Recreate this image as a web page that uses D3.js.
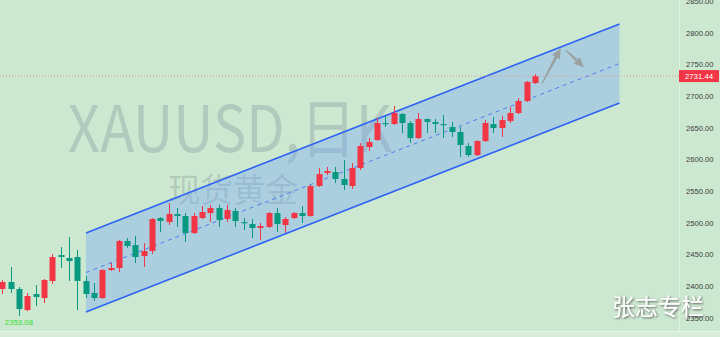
<!DOCTYPE html>
<html><head><meta charset="utf-8">
<script src="https://cdn.jsdelivr.net/npm/d3@7"></script>
<style>html,body{margin:0;padding:0;background:#cde8d0;overflow:hidden}</style>
</head><body><svg id="c" width="720" height="337"></svg>
<script>
const categories = ["07-23","07-24","07-25","07-26","07-29","07-30","07-31","08-01","08-02",
"08-05","08-06","08-07","08-08","08-09","08-12","08-13","08-14","08-15","08-16",
"08-19","08-20","08-21","08-22","08-23","08-26","08-27","08-28","08-29","08-30",
"09-02","09-03","09-04","09-05","09-06","09-09","09-10","09-11","09-12","09-13",
"09-16","09-17","09-18","09-19","09-20","09-23","09-24","09-25","09-26","09-27","09-30",
"10-01","10-02","10-03","10-04","10-07","10-08","10-09","10-10","10-11",
"10-14","10-15","10-16","10-17","10-18","10-21"];
const open = [2395.6,2406.6,2395.6,2362.4,2387.7,2381.4,2408.2,2449.2,2444.5,2446.0,2408.2,2389.3,2381.4,2425.5,2428.7,2471.3,2465.0,2447.6,2455.5,2507.5,2501.2,2513.9,2510.7,2483.9,2507.5,2515.4,2523.3,2506.0,2518.6,2501.2,2498.1,2491.8,2493.4,2515.4,2496.5,2507.5,2515.4,2510.7,2558.0,2578.5,2580.1,2569.1,2558.0,2586.4,2619.5,2630.6,2657.4,2655.8,2671.6,2657.4,2633.7,2663.7,2659.0,2655.8,2651.1,2643.2,2621.1,2606.9,2629.0,2655.8,2649.5,2660.5,2673.2,2692.1,2720.5];
const high = [2409.8,2430.3,2398.7,2389.3,2401.9,2411.3,2450.8,2461.8,2477.6,2457.1,2416.1,2405.0,2427.0,2436.6,2472.9,2476.0,2479.2,2468.1,2507.5,2509.1,2531.2,2523.3,2515.4,2515.4,2526.5,2528.1,2528.1,2528.1,2523.3,2507.5,2506.0,2499.7,2517.0,2523.3,2509.1,2517.0,2526.5,2559.6,2586.4,2588.0,2588.0,2599.0,2594.3,2625.8,2633.7,2665.3,2668.4,2684.2,2673.2,2660.5,2673.2,2664.5,2663.7,2670.0,2659.0,2651.1,2625.8,2630.0,2662.1,2666.9,2668.4,2682.6,2696.8,2723.6,2734.7];
const low = [2387.7,2389.3,2353.08,2360.5,2368.7,2373.5,2403.5,2428.7,2408.2,2362.4,2381.4,2376.6,2379.8,2424.0,2422.4,2460.2,2436.6,2430.3,2450.8,2485.5,2496.5,2493.4,2469.7,2482.3,2506.0,2501.2,2493.4,2501.2,2493.4,2488.6,2476.0,2472.8,2491.8,2485.5,2483.9,2506.0,2499.7,2509.5,2556.4,2575.4,2562.8,2551.7,2553.3,2583.3,2613.2,2629.0,2651.1,2654.2,2641.6,2625.8,2632.2,2641.6,2641.6,2633.7,2635.3,2603.8,2603.8,2605.3,2627.4,2641.6,2635.3,2657.4,2671.5,2690.5,2719.0];
const close = [2406.6,2395.6,2364.0,2384.5,2382.9,2409.8,2446.0,2446.0,2439.7,2408.2,2387.7,2381.4,2425.5,2428.7,2471.3,2463.4,2446.0,2455.5,2506.0,2502.8,2513.9,2510.7,2483.9,2510.7,2517.0,2523.3,2504.4,2520.2,2502.8,2499.7,2491.8,2494.9,2515.4,2498.1,2506.0,2515.4,2510.7,2558.0,2576.9,2581.7,2569.1,2559.6,2586.4,2621.1,2627.4,2657.4,2655.8,2673.2,2657.4,2633.7,2663.7,2659.0,2655.8,2654.2,2643.2,2622.7,2606.9,2629.0,2657.4,2649.5,2662.1,2673.2,2692.1,2722.1,2731.44];
const yTicks = [2350,2400,2450,2500,2550,2600,2650,2700,2750,2800,2850];
// channel (index positions, prices)
const channelX = [10.05, 74.15];
const channelUpper = [2483.9, 2813.5];
const channelLower = [2359.3, 2688.9];
const channelMid = [2421.6, 2751.2];
// forecast arrows: [tailIndex, tailPrice, tipIndex, tipPrice]
const arrows = [[64.81, 2718.9, 67.09, 2775.2],[67.68, 2772.5, 69.89, 2745.3]];
const lastPrice = 2731.44;
const lowLabel = "2353.08", lowIndex = 2;
const watermark1 = "XAUUSD,日K", watermark2 = "现货黄金", signature = "张志专栏";

const svg = d3.select("#c");
const plotRight = 679;
const x = d3.scaleLinear().domain([0, 64]).range([2.3, 535]);
const y = d3.scaleLinear().domain([2350, 2850]).range([317.9, 0.9]);

const defs = svg.append("defs");
defs.append("clipPath").attr("id","plot").append("rect").attr("x",0).attr("y",0).attr("width",plotRight).attr("height",331);
const f = defs.append("filter").attr("id","sh").attr("x","-20%").attr("y","-40%").attr("width","140%").attr("height","180%");
f.append("feDropShadow").attr("dx",1).attr("dy",1).attr("stdDeviation",0.9).attr("flood-color","#444").attr("flood-opacity",0.85);

svg.append("rect").attr("width",720).attr("height",337).attr("fill","#cde8d0");

const g = svg.append("g").attr("clip-path","url(#plot)");

// watermark
g.append("text").attr("x",68).attr("y",152).attr("textLength",324).attr("lengthAdjust","spacingAndGlyphs")
  .attr("font-family","'Noto Sans CJK SC','Noto Sans',sans-serif").attr("font-size",64)
  .attr("fill","rgba(100,110,130,0.25)").text(watermark1);
g.append("text").attr("x",168).attr("y",202).attr("textLength",130).attr("lengthAdjust","spacingAndGlyphs")
  .attr("font-family","'Noto Sans CJK SC',sans-serif").attr("font-size",33)
  .attr("fill","rgba(100,110,130,0.25)").text(watermark2);

// channel fill
const poly = [[channelX[0],channelUpper[0]],[channelX[1],channelUpper[1]],[channelX[1],channelLower[1]],[channelX[0],channelLower[0]]];
g.append("path").attr("d", d3.line().x(d=>x(d[0])).y(d=>y(d[1]))(poly)+"Z")
  .attr("fill","rgba(115,165,250,0.37)");
const ln = (vals) => d3.line().x((d,i)=>x(channelX[i])).y(d=>y(d))(vals);
g.append("path").attr("d", ln(channelUpper)).attr("stroke","#2f63f2").attr("stroke-width",1.6).attr("fill","none");
g.append("path").attr("d", ln(channelLower)).attr("stroke","#2f63f2").attr("stroke-width",1.6).attr("fill","none");
g.append("path").attr("d", ln(channelMid)).attr("stroke","#4d7df0").attr("stroke-width",1).attr("stroke-dasharray","4,4").attr("fill","none");

// candles
const data = categories.map((c,i)=>({c,i,o:open[i],h:high[i],l:low[i],cl:close[i]}));
const col = d => d.cl >= d.o ? "#f23645" : "#089981";
const cg = g.append("g");
cg.selectAll("line.w").data(data).join("line").attr("class","w")
  .attr("x1",d=>Math.round(x(d.i))+0.5).attr("x2",d=>Math.round(x(d.i))+0.5)
  .attr("y1",d=>y(d.h)).attr("y2",d=>y(d.l)).attr("stroke",col).attr("stroke-width",1);
cg.selectAll("rect.b").data(data).join("rect").attr("class","b")
  .attr("x",d=>Math.round(x(d.i))+0.5-3).attr("width",6)
  .attr("y",d=>y(Math.max(d.o,d.cl))).attr("height",d=>Math.max(1.2, y(Math.min(d.o,d.cl))-y(Math.max(d.o,d.cl))))
  .attr("fill",col);

// last price dotted line
g.append("line").attr("x1",0).attr("x2",plotRight).attr("y1",y(lastPrice)).attr("y2",y(lastPrice))
  .attr("stroke","#d79a9a").attr("stroke-width",1).attr("stroke-dasharray","1,2");

// arrows
arrows.forEach(a=>{
  const x0=x(a[0]), y0=y(a[1]), x1=x(a[2]), y1=y(a[3]);
  const dx=x1-x0, dy=y1-y0, L=Math.hypot(dx,dy), ux=dx/L, uy=dy/L, px=-uy, py=ux;
  const hl=10, hw=4.5;
  const bx=x1-ux*hl, by=y1-uy*hl;
  g.append("path").attr("d",`M${x0-px*0.5},${y0-py*0.5}L${bx-px*1.5},${by-py*1.5}L${bx+px*1.5},${by+py*1.5}L${x0+px*0.5},${y0+py*0.5}Z`)
    .attr("fill","#9a9fa0");
  g.append("path").attr("d",`M${x1},${y1}L${bx-px*hw},${by-py*hw}L${bx+px*hw},${by+py*hw}Z`).attr("fill","#9a9fa0");
});

// low label
g.append("text").attr("x",x(lowIndex)).attr("y",y(low[lowIndex])+8.8).attr("text-anchor","middle")
  .attr("font-family","'Liberation Sans',Arial,sans-serif").attr("font-size",7.8).attr("fill","#2fe02f").text(lowLabel);

// separators
svg.append("line").attr("x1",plotRight+0.5).attr("x2",plotRight+0.5).attr("y1",0).attr("y2",331).attr("stroke","rgba(255,255,255,0.35)");
svg.append("rect").attr("x",0).attr("y",331).attr("width",720).attr("height",6).attr("fill","#d8edd9");
svg.append("line").attr("x1",0).attr("x2",720).attr("y1",331.5).attr("y2",331.5).attr("stroke","#e6f3e6");

// y axis
const ax = svg.append("g").attr("transform",`translate(${plotRight},0)`)
  .call(d3.axisRight(y).tickValues(yTicks).tickFormat(d3.format(".2f")).tickSize(0).tickPadding(7));
ax.select(".domain").remove();
ax.selectAll("text").attr("font-family","'Liberation Sans',Arial,sans-serif").attr("font-size",7.6).attr("fill","#3a3a3a");

// last price tag
svg.append("rect").attr("x",plotRight).attr("y",y(lastPrice)-6).attr("width",40).attr("height",12).attr("fill","#f23645");
svg.append("text").attr("x",plotRight+20).attr("y",y(lastPrice)+2.8).attr("text-anchor","middle")
  .attr("font-family","'Liberation Sans',Arial,sans-serif").attr("font-size",7.8).attr("fill","#fff").text(lastPrice.toFixed(2));

// signature
svg.append("text").attr("x",612).attr("y",315).attr("font-family","'Noto Sans CJK SC',sans-serif").attr("font-size",23)
  .attr("fill","#fff").attr("filter","url(#sh)").text(signature);
</script></body></html>
